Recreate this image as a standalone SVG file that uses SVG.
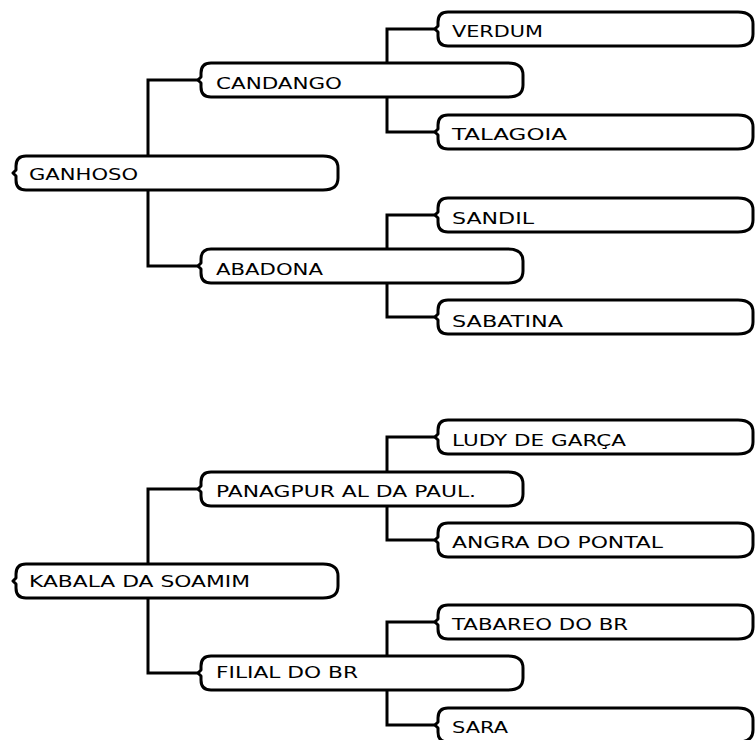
<svg xmlns="http://www.w3.org/2000/svg" width="755" height="740" viewBox="0 0 755 740">
<style>
.box{fill:#fff;stroke:#000;stroke-width:3;stroke-linejoin:round}
.lbl{font-family:"DejaVu Sans",sans-serif;font-size:15px;fill:#000}
.conn{fill:none;stroke:#000;stroke-width:3;stroke-linejoin:miter;stroke-linecap:square}
</style>
<rect width="755" height="740" fill="#fff"/>
<g id="connectors">
<path class="conn" d="M198,80 H148 V266 H198"/>
<path class="conn" d="M435,29 H387 V132 H435"/>
<path class="conn" d="M435,215 H387 V317 H435"/>
<path class="conn" d="M198,489 H148 V673 H198"/>
<path class="conn" d="M435,437 H387 V540 H435"/>
<path class="conn" d="M435,622 H387 V725 H435"/>
</g>
<g id="ganhoso"><path class="box" d="M26,156 H323 Q338,156 338,168 V178 Q338,190 323,190 H26 Q16,190 16,180 V176 L13,173 L16,170 V166 Q16,156 26,156 Z"/><text class="lbl" x="29" y="180" textLength="109" lengthAdjust="spacingAndGlyphs">GANHOSO</text></g>
<g id="candango"><path class="box" d="M211,63 H508 Q523,63 523,75 V85 Q523,97 508,97 H211 Q201,97 201,87 V83 L198,80 L201,77 V73 Q201,63 211,63 Z"/><text class="lbl" x="216" y="89" textLength="126" lengthAdjust="spacingAndGlyphs">CANDANGO</text></g>
<g id="abadona"><path class="box" d="M211,249 H508 Q523,249 523,261 V271 Q523,283 508,283 H211 Q201,283 201,273 V269 L198,266 L201,263 V259 Q201,249 211,249 Z"/><text class="lbl" x="216" y="275" textLength="107" lengthAdjust="spacingAndGlyphs">ABADONA</text></g>
<g id="verdum"><path class="box" d="M448,12 H738 Q753,12 753,24 V34 Q753,46 738,46 H448 Q438,46 438,36 V32 L435,29 L438,26 V22 Q438,12 448,12 Z"/><text class="lbl" x="452" y="37" textLength="91" lengthAdjust="spacingAndGlyphs">VERDUM</text></g>
<g id="talagoia"><path class="box" d="M448,115 H738 Q753,115 753,127 V137 Q753,149 738,149 H448 Q438,149 438,139 V135 L435,132 L438,129 V125 Q438,115 448,115 Z"/><text class="lbl" x="452" y="140" textLength="115" lengthAdjust="spacingAndGlyphs">TALAGOIA</text></g>
<g id="sandil"><path class="box" d="M448,198 H738 Q753,198 753,210 V220 Q753,232 738,232 H448 Q438,232 438,222 V218 L435,215 L438,212 V208 Q438,198 448,198 Z"/><text class="lbl" x="452" y="224" textLength="82" lengthAdjust="spacingAndGlyphs">SANDIL</text></g>
<g id="sabatina"><path class="box" d="M448,300 H738 Q753,300 753,312 V322 Q753,334 738,334 H448 Q438,334 438,324 V320 L435,317 L438,314 V310 Q438,300 448,300 Z"/><text class="lbl" x="452" y="327" textLength="111" lengthAdjust="spacingAndGlyphs">SABATINA</text></g>
<g id="kabala"><path class="box" d="M26,564 H323 Q338,564 338,576 V586 Q338,598 323,598 H26 Q16,598 16,588 V584 L13,581 L16,578 V574 Q16,564 26,564 Z"/><text class="lbl" x="29" y="587" textLength="221" lengthAdjust="spacingAndGlyphs">KABALA DA SOAMIM</text></g>
<g id="panagpur"><path class="box" d="M211,472 H508 Q523,472 523,484 V494 Q523,506 508,506 H211 Q201,506 201,496 V492 L198,489 L201,486 V482 Q201,472 211,472 Z"/><text class="lbl" x="216" y="497" textLength="260" lengthAdjust="spacingAndGlyphs">PANAGPUR AL DA PAUL.</text></g>
<g id="filial"><path class="box" d="M211,656 H508 Q523,656 523,668 V678 Q523,690 508,690 H211 Q201,690 201,680 V676 L198,673 L201,670 V666 Q201,656 211,656 Z"/><text class="lbl" x="216" y="678" textLength="142" lengthAdjust="spacingAndGlyphs">FILIAL DO BR</text></g>
<g id="ludy"><path class="box" d="M448,420 H738 Q753,420 753,432 V442 Q753,454 738,454 H448 Q438,454 438,444 V440 L435,437 L438,434 V430 Q438,420 448,420 Z"/><text class="lbl" x="452" y="446" textLength="174" lengthAdjust="spacingAndGlyphs">LUDY DE GARÇA</text></g>
<g id="angra"><path class="box" d="M448,523 H738 Q753,523 753,535 V545 Q753,557 738,557 H448 Q438,557 438,547 V543 L435,540 L438,537 V533 Q438,523 448,523 Z"/><text class="lbl" x="452" y="548" textLength="211" lengthAdjust="spacingAndGlyphs">ANGRA DO PONTAL</text></g>
<g id="tabareo"><path class="box" d="M448,605 H738 Q753,605 753,617 V627 Q753,639 738,639 H448 Q438,639 438,629 V625 L435,622 L438,619 V615 Q438,605 448,605 Z"/><text class="lbl" x="452" y="630" textLength="176" lengthAdjust="spacingAndGlyphs">TABAREO DO BR</text></g>
<g id="sara"><path class="box" d="M448,708 H738 Q753,708 753,720 V730 Q753,742 738,742 H448 Q438,742 438,732 V728 L435,725 L438,722 V718 Q438,708 448,708 Z"/><text class="lbl" x="452" y="733" textLength="56" lengthAdjust="spacingAndGlyphs">SARA</text></g>
</svg>
